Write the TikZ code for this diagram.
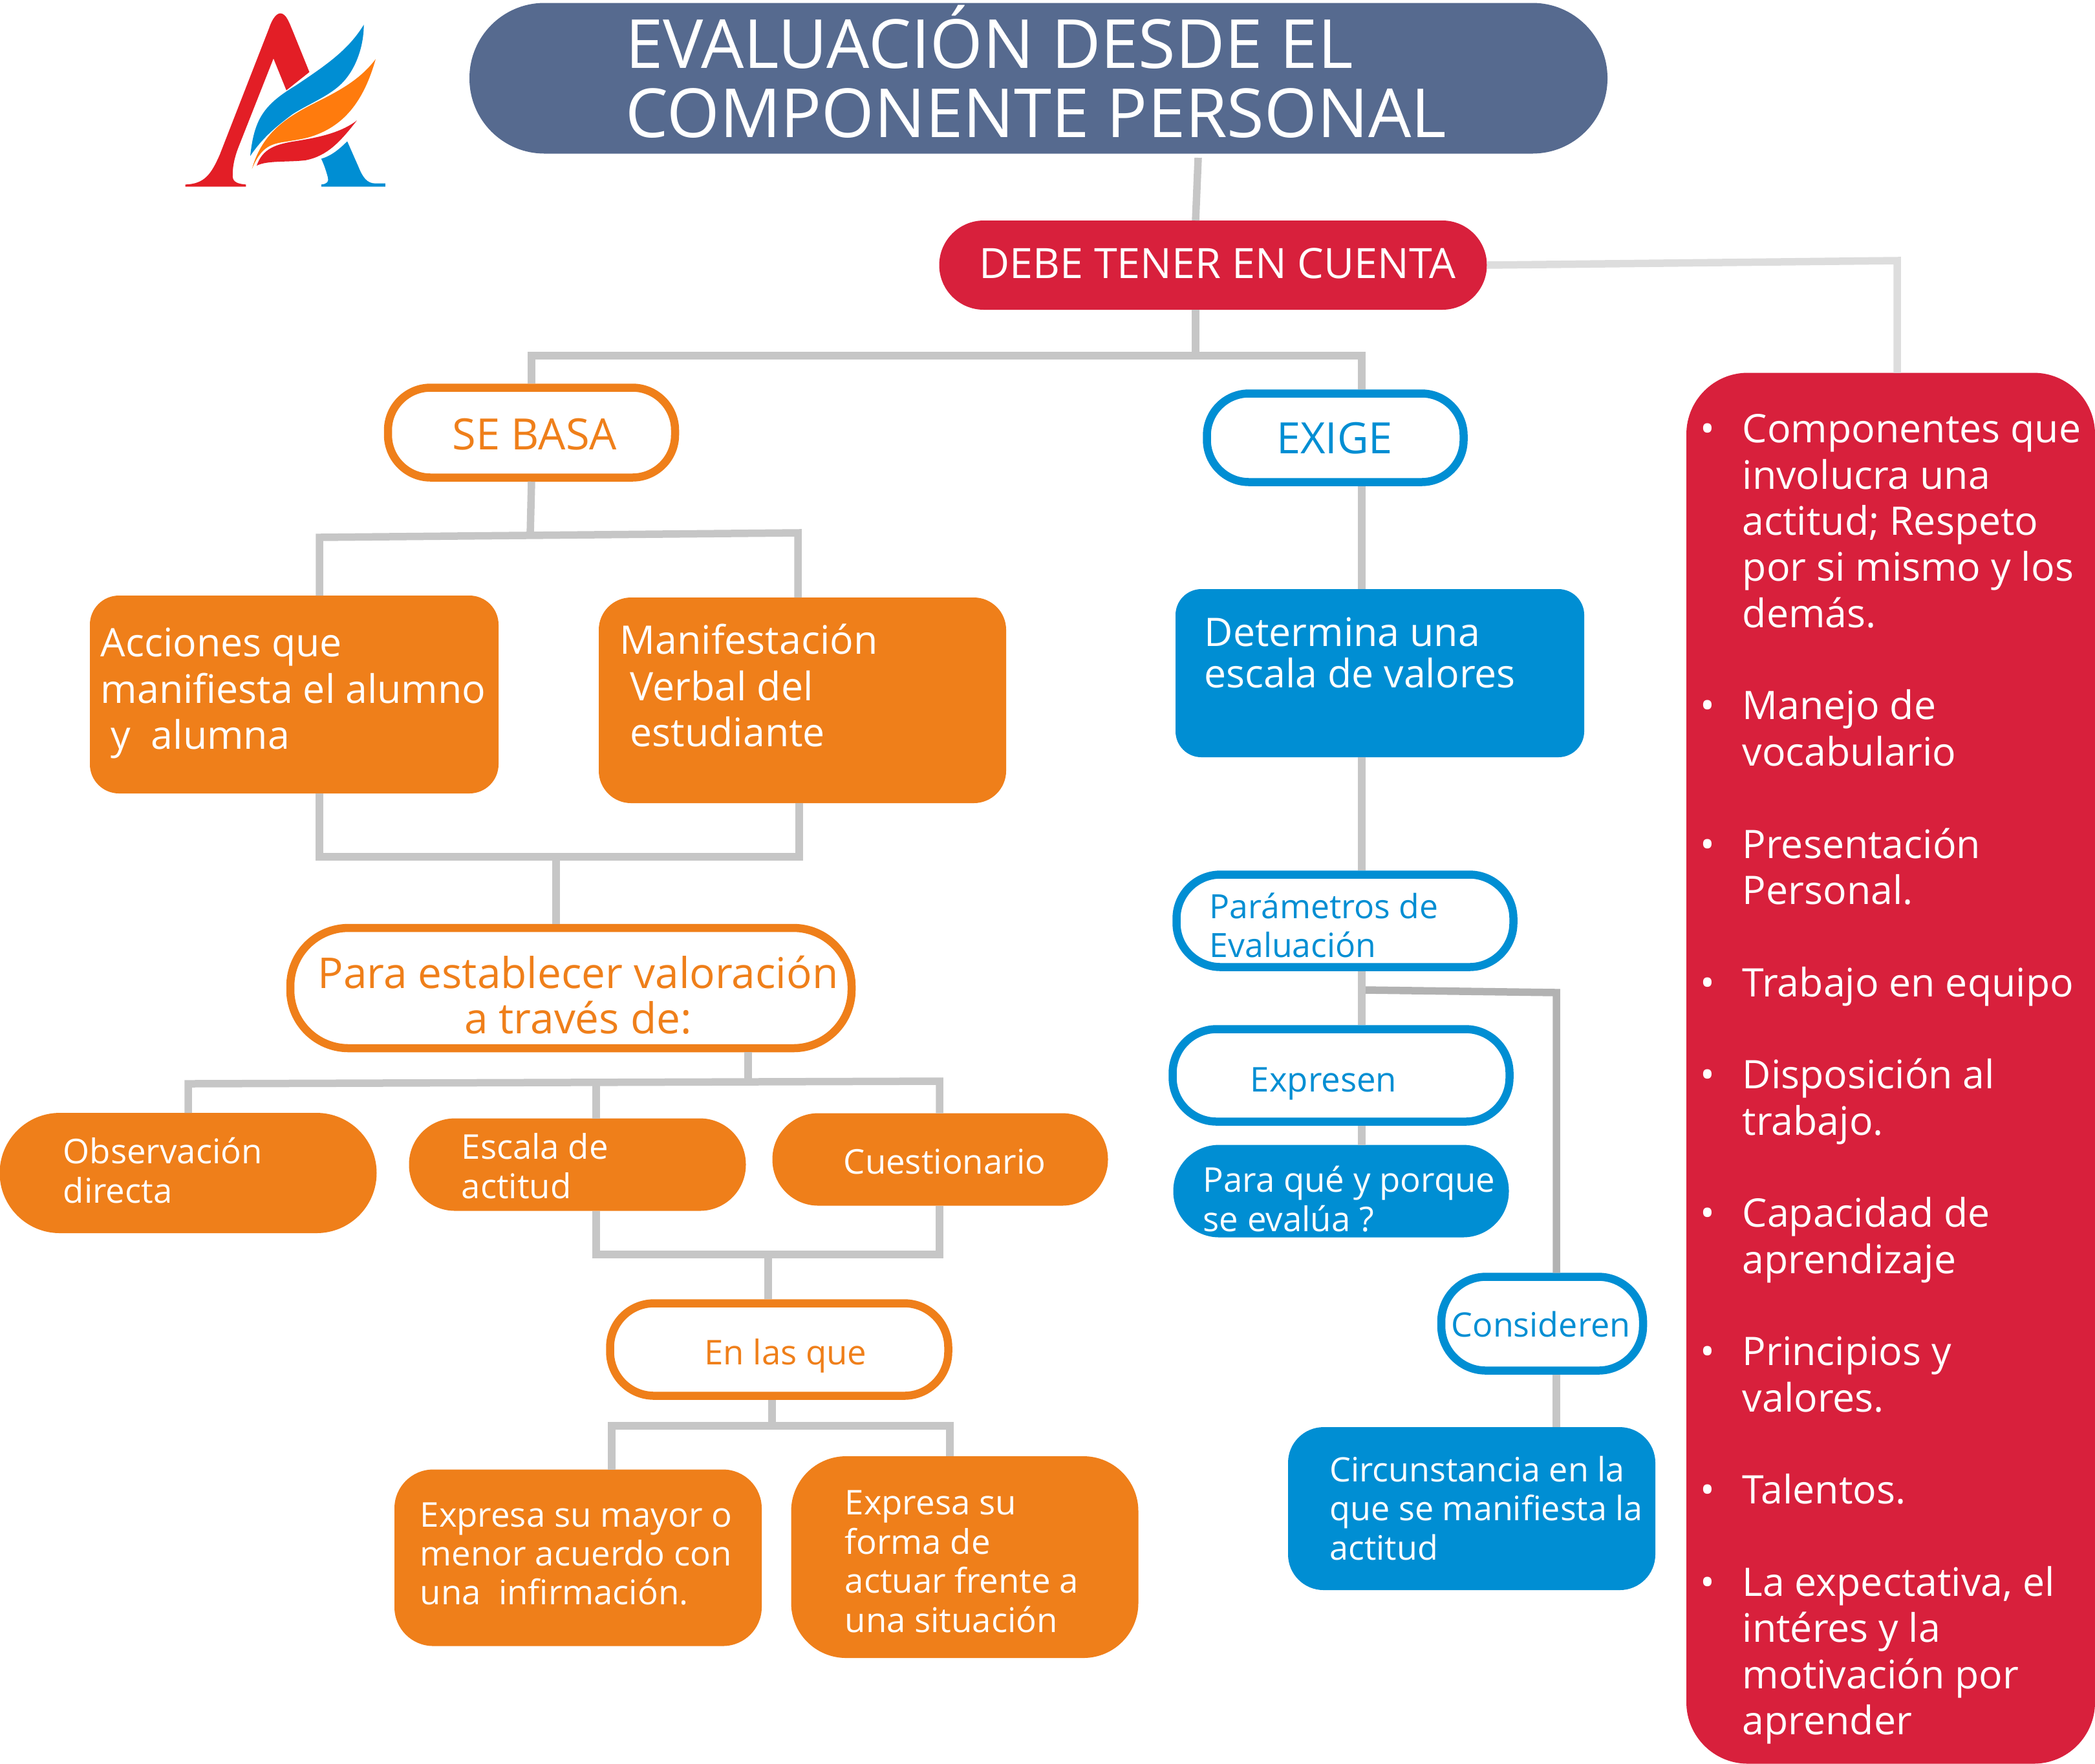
\documentclass[tikz,border=0pt]{standalone}
\usepackage{fontspec}
\setmainfont{Open Sans}
\definecolor{azulgris}{HTML}{566A8F}
\definecolor{carmesi}{HTML}{D8203C}
\definecolor{naranja}{HTML}{EF7F1A}
\definecolor{azul}{HTML}{008ED3}
\definecolor{gris}{HTML}{C6C6C6}
\definecolor{rojologo}{HTML}{E31E26}
\definecolor{naranjalogo}{HTML}{FF7B0D}
\tikzset{
	lleno/.style={rectangle,inner sep=0pt,outer sep=0pt},
	naranjalleno/.style={lleno,fill=naranja},
	azullleno/.style={lleno,fill=azul},
	borde/.style={rectangle,inner sep=0pt,fill=white,line width=1.25mm},
	conector/.style={line width=1.15mm,gris},
	texto/.style={inner sep=0pt,align=left,anchor=west},
	tgrande/.style={font=\fontsize{17.3}{20.3}\selectfont},
	tmedio/.style={font=\fontsize{15}{17.2}\selectfont},
}

\begin{document}
\begin{tikzpicture}[y=-1cm]
	\useasboundingbox (0,0) rectangle (32.4,27.27);

	\node (titulo) [lleno,fill=azulgris,minimum width=17.6cm,minimum height=2.33cm,rounded corners=1.16cm] at (16.06,1.21) {};
	\node (debe) [lleno,fill=carmesi,minimum width=8.47cm,minimum height=1.38cm,rounded corners=0.69cm] at (18.76,4.10) {};
	\node (sebasa) [borde,draw=naranja,minimum width=4.44cm,minimum height=1.39cm,rounded corners=0.66cm] at (8.22,6.69) {};
	\node (exige) [borde,draw=azul,minimum width=3.97cm,minimum height=1.37cm,rounded corners=0.65cm] at (20.65,6.77) {};
	\node (acciones) [naranjalleno,minimum width=6.32cm,minimum height=3.06cm,rounded corners=0.45cm] at (4.55,10.74) {};
	\node (manifestacion) [naranjalleno,minimum width=6.3cm,minimum height=3.18cm,rounded corners=0.5cm] at (12.41,10.83) {};
	\node (determina) [azullleno,minimum width=6.32cm,minimum height=2.6cm,rounded corners=0.4cm] at (21.34,10.41) {};
	\node (valoracion) [borde,draw=naranja,minimum width=8.68cm,minimum height=1.86cm,rounded corners=0.9cm] at (8.83,15.28) {};
	\node (parametros) [borde,draw=azul,minimum width=5.21cm,minimum height=1.43cm,rounded corners=0.68cm] at (20.80,14.24) {};
	\node (expresen) [borde,draw=azul,minimum width=5.21cm,minimum height=1.43cm,rounded corners=0.68cm] at (20.74,16.63) {};
	\node (paraque) [azullleno,minimum width=5.19cm,minimum height=1.43cm,rounded corners=0.71cm] at (20.74,18.42) {};
	\node (observacion) [naranjalleno,minimum width=5.83cm,minimum height=1.86cm,rounded corners=0.93cm] at (2.91,18.14) {};
	\node (escala) [naranjalleno,minimum width=5.21cm,minimum height=1.43cm,rounded corners=0.71cm] at (8.93,18.01) {};
	\node (cuestionario) [naranjalleno,minimum width=5.19cm,minimum height=1.43cm,rounded corners=0.71cm] at (14.54,17.93) {};
	\node (enlasque) [borde,draw=naranja,minimum width=5.23cm,minimum height=1.43cm,rounded corners=0.68cm] at (12.05,20.87) {};
	\node (consideren) [borde,draw=azul,minimum width=3.12cm,minimum height=1.45cm,rounded corners=0.69cm] at (23.85,20.47) {};
	\node (circunstancia) [azullleno,minimum width=5.68cm,minimum height=2.52cm,rounded corners=0.55cm] at (22.76,23.33) {};
	\node (mayor) [naranjalleno,minimum width=5.68cm,minimum height=2.73cm,rounded corners=0.6cm] at (8.94,24.09) {};
	\node (forma) [naranjalleno,minimum width=5.37cm,minimum height=3.12cm,rounded corners=0.85cm] at (14.92,24.08) {};
	\node (lista) [lleno,fill=carmesi,minimum width=6.32cm,minimum height=21.51cm,rounded corners=0.95cm] at (29.24,16.52) {};

	\coordinate (t1) at (18.53,2.44);
	\coordinate (b1) at (18.49,5.50);
	\coordinate (b2) at (21.06,5.50);
	\coordinate (r1) at (29.34,4.03);
	\coordinate (s1) at (8.20,8.27);
	\coordinate (s2) at (4.94,8.31);
	\coordinate (s3) at (12.34,8.24);
	\coordinate (u1) at (4.94,13.25);
	\coordinate (u2) at (12.36,13.25);
	\coordinate (u3) at (8.60,13.25);
	\coordinate (v1) at (11.57,16.74);
	\coordinate (v2) at (2.91,16.76);
	\coordinate (v3) at (14.53,16.72);
	\coordinate (v4) at (9.22,16.75);
	\coordinate (w1) at (9.22,19.40);
	\coordinate (w2) at (14.53,19.40);
	\coordinate (w3) at (11.88,19.40);
	\coordinate (y1) at (11.94,22.04);
	\coordinate (y2) at (9.46,22.05);
	\coordinate (y3) at (14.69,22.05);
	\coordinate (e1) at (21.06,8);
	\coordinate (p1) at (21.12,15.31);
	\coordinate (p2) at (24.07,15.35);

	\draw[conector] (t1) -- (debe.north -| b1);
	\draw[conector] (debe.south -| b1) -- (b1);
	\draw[conector] (sebasa.north) -- (sebasa.north |- b1) -- (b2) -- (exige.north -| b2);
	\draw[conector,gris!60] (debe.east) -- (r1) -- (lista.north -| r1);
	\draw[conector] (sebasa.south) -- (s1);
	\draw[conector] (acciones.north -| s2) -- (s2) -- (s3) -- (manifestacion.north -| s3);
	\draw[conector] (acciones.south -| u1) -- (u1) -- (u2) -- (manifestacion.south -| u2);
	\draw[conector] (u3) -- (valoracion.north -| u3);
	\draw[conector] (exige.south -| e1) -- (determina.north -| e1);
	\draw[conector] (determina.south -| e1) -- (parametros.north -| e1);
	\draw[conector] (parametros.south -| e1) -- (expresen.north -| e1);
	\draw[conector] (expresen.south -| e1) -- (paraque.north -| e1);
	\draw[conector,gris!90!black] (p1) -- (p2) -- (consideren.north -| p2);
	\draw[conector] (consideren.south -| p2) -- (circunstancia.north -| p2);
	\draw[conector] (valoracion.south -| v1) -- (v1);
	\draw[conector] (observacion.north -| v2) -- (v2) -- (v3) -- (cuestionario.north -| v3);
	\draw[conector] (v4) -- (escala.north -| v4);
	\draw[conector] (escala.south -| w1) -- (w1) -- (w2) -- (cuestionario.south -| w2);
	\draw[conector] (w3) -- (enlasque.north -| w3);
	\draw[conector] (enlasque.south -| y1) -- (y1);
	\draw[conector] (mayor.north -| y2) -- (y2) -- (y3) -- (forma.north -| y3);

	\node (ttitulo) [texto,white,font=\fontsize{29.8}{30.5}\selectfont] at (9.67,1.11) {EVALUACIÓN DESDE EL\\COMPONENTE PERSONAL};
	\node (tdebe) [texto,anchor=center,white,font=\fontsize{18.4}{20}\selectfont] at (18.83,4.07) {DEBE TENER EN CUENTA};
	\node (tsebasa) [texto,anchor=center,naranja,font=\fontsize{19}{20}\selectfont] at (8.27,6.72) {SE BASA};
	\node (texige) [texto,anchor=center,azul,font=\fontsize{19}{20}\selectfont] at (20.64,6.78) {EXIGE};
	\node (tacciones) [texto,tgrande,white] at (1.55,10.72) {Acciones que\\manifiesta el alumno\\\hspace{0.16cm}y\ \ alumna};
	\node (tmanifestacion) [texto,tgrande,white] at (9.58,10.60) {Manifestación\\\hspace{0.16cm}Verbal del\\\hspace{0.16cm}estudiante};
	\node (tdetermina) [texto,white,font=\fontsize{17.3}{18.2}\selectfont] at (18.62,10.09) {Determina una\\escala de valores};
	\node (tvaloracion) [texto,anchor=center,align=center,naranja,font=\fontsize{18.7}{19.8}\selectfont] at (8.94,15.39) {Para establecer valoración\\a través de:};
	\node (tobservacion) [texto,tmedio,white] at (0.97,18.10) {Observación\\directa};
	\node (tescala) [texto,tmedio,white] at (7.13,18.03) {Escala de\\actitud};
	\node (tcuestionario) [texto,tmedio,anchor=center,white] at (14.61,17.96) {Cuestionario};
	\node (tenlasque) [texto,tmedio,anchor=center,naranja] at (12.15,20.97) {En las que};
	\node (tparametros) [texto,font=\fontsize{14.7}{17.2}\selectfont,azul] at (18.70,14.31) {Parámetros de\\Evaluación};
	\node (texpresen) [texto,tmedio,anchor=center,azul] at (20.47,16.76) {Expresen};
	\node (tparaque) [texto,tmedio,white] at (18.60,18.54) {Para qué y porque\\se evalúa ?};
	\node (tconsideren) [texto,font=\fontsize{14.8}{17.2}\selectfont,anchor=center,azul] at (23.83,20.48) {Consideren};
	\node (tcircunstancia) [texto,font=\fontsize{14.8}{17.2}\selectfont,white] at (20.56,23.32) {Circunstancia en la\\que se manifiesta la\\actitud};
	\node (tmayor) [texto,tmedio,white] at (6.49,24.03) {Expresa su mayor o\\menor acuerdo con\\una\ \ infirmación.};
	\node (tforma) [texto,tmedio,white] at (13.06,24.15) {Expresa su\\forma de\\actuar frente a\\una situación};
	\node (tlista) [texto,tgrande,white] at (26.94,16.69) {\llap{\textbullet\hspace{0.42cm}}Componentes que\\involucra una\\actitud; Respeto\\por si mismo y los\\demás.\\[20.3pt]
		\llap{\textbullet\hspace{0.42cm}}Manejo de\\vocabulario\\[20.3pt]
		\llap{\textbullet\hspace{0.42cm}}Presentación\\Personal.\\[20.3pt]
		\llap{\textbullet\hspace{0.42cm}}Trabajo en equipo\\[20.3pt]
		\llap{\textbullet\hspace{0.42cm}}Disposición al\\trabajo.\\[20.3pt]
		\llap{\textbullet\hspace{0.42cm}}Capacidad de\\aprendizaje\\[20.3pt]
		\llap{\textbullet\hspace{0.42cm}}Principios y\\valores.\\[20.3pt]
		\llap{\textbullet\hspace{0.42cm}}Talentos.\\[20.3pt]
		\llap{\textbullet\hspace{0.42cm}}La expectativa, el\\intéres y la\\motivación por\\aprender};

	\begin{scope}[shift={(2.4,0)},x=0.003333cm,y=-0.003333cm]
		\fill[azul] (893,657) -- (945,775) .. controls (965,825) and (985,853) .. (1025,853) -- (1070,853) -- (1070,868) -- (772,868) -- (772,858) .. controls (800,855) and (808,845) .. (803,825) .. controls (795,795) and (785,765) .. (772,738) .. controls (820,725) and (860,690) .. (893,657) -- cycle;
		\fill[rojologo] (140,858) .. controls (230,855) and (260,810) .. (300,720) -- (530,130) .. controls (545,85) and (565,62) .. (582,62) .. controls (610,62) and (625,110) .. (640,145) -- (717,335) -- (610,420) -- (550,272) -- (385,690) .. controls (365,745) and (360,780) .. (360,820) .. controls (362,850) and (390,855) .. (422,858) -- (422,868) -- (140,868) -- cycle;
		\fill[azul] (970,115) .. controls (900,230) and (800,300) .. (650,400) .. controls (500,490) and (460,560) .. (442,725) .. controls (500,640) and (560,590) .. (640,530) .. controls (720,480) and (800,450) .. (860,395) .. controls (930,330) and (970,220) .. (970,115) -- cycle;
		\fill[naranjalogo] (1025,275) .. controls (960,360) and (880,410) .. (760,470) .. controls (620,540) and (500,610) .. (450,785) .. controls (490,690) and (530,670) .. (600,660) .. controls (660,650) and (700,645) .. (740,630) .. controls (880,580) and (970,470) .. (1025,275) -- cycle;
		\fill[rojologo] (938,560) .. controls (860,620) and (750,640) .. (660,655) .. controls (560,670) and (500,690) .. (472,770) .. controls (520,745) and (620,755) .. (700,745) .. controls (800,725) and (860,660) .. (938,560) -- cycle;
	\end{scope}
\end{tikzpicture}
\end{document}
